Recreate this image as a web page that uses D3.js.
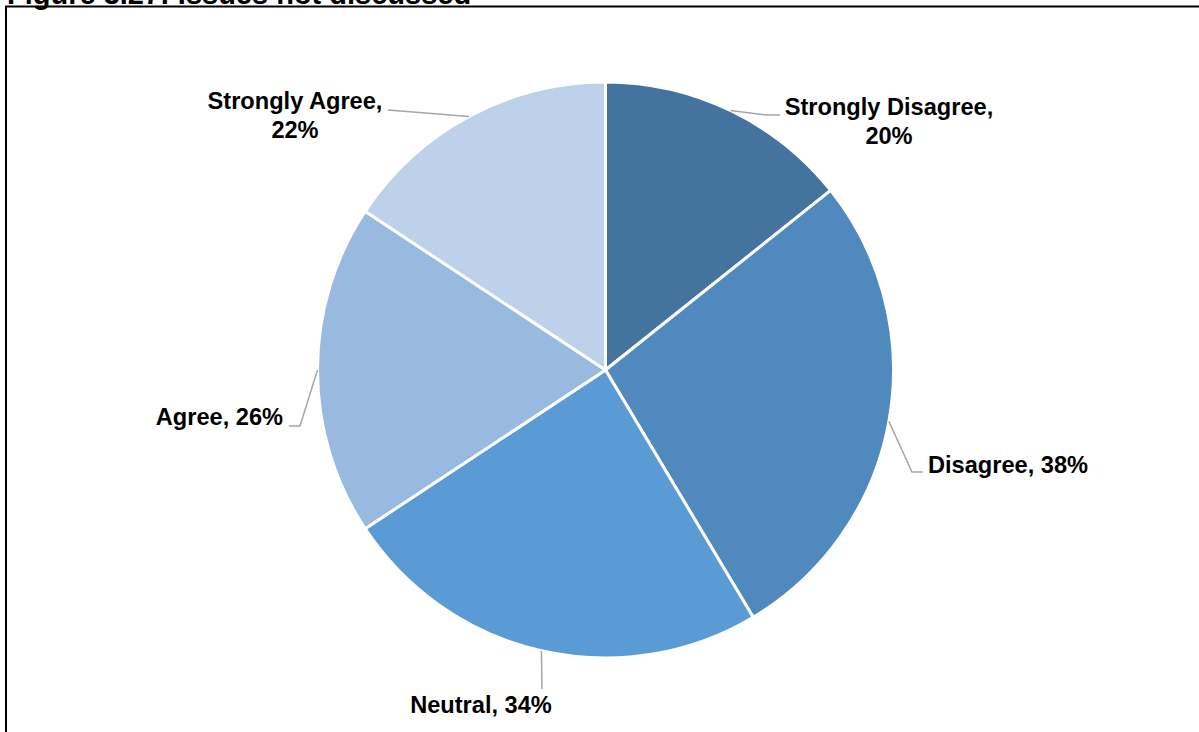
<!DOCTYPE html>
<html>
<head>
<meta charset="utf-8">
<script src="https://cdn.jsdelivr.net/npm/d3@7"></script>
<style>
  html, body { margin: 0; padding: 0; background: #fff; }
  svg { display: block; }
  text { font-family: "Liberation Sans", Arial, sans-serif; font-weight: bold; fill: #000; }
</style>
</head>
<body>
<svg id="chart" width="1199" height="732"></svg>
<script>
const categories = ["Strongly Disagree", "Disagree", "Neutral", "Agree", "Strongly Agree"];
const values = [20, 38, 34, 26, 22];
const colors = ["#44739F", "#4F89BD", "#5B9BD5", "#98B9E0", "#BDD1EA"];
const titleText = "Figure 3.27: Issues not discussed";

// layout (label anchors & leader-line bends), not data
const labelLayout = [
  { lines: 2, anchor: "middle", x: 889, y: 115, pts: [[767, 115], [780, 115]] },
  { lines: 1, anchor: "start",  x: 928, y: 473, pts: [[912, 472], [923, 472]] },
  { lines: 1, anchor: "middle", x: 481, y: 713, pts: [[542, 689]] },
  { lines: 1, anchor: "end",    x: 283, y: 425, pts: [[300, 426], [289, 426]] },
  { lines: 2, anchor: "middle", x: 295, y: 109, pts: [[388, 110]] }
];

const svg = d3.select("#chart");
const cx = 605.5, cy = 370, r = 288;

// title (cut off at top)
svg.append("text").attr("x", 7).attr("y", 4)
  .style("font-size", "29px").text(titleText);

// frame
svg.append("rect").attr("x", 6).attr("y", 6.5).attr("width", 1220).attr("height", 760)
  .attr("fill", "none").attr("stroke", "#000").attr("stroke-width", 2);

const pie = d3.pie().sort(null).value(d => d.v)(categories.map((c, i) => ({ c, v: values[i] })));
const arc = d3.arc().innerRadius(0).outerRadius(r);
const g = svg.append("g").attr("transform", `translate(${cx},${cy})`);

g.selectAll("path.slice").data(pie).join("path")
  .attr("class", "slice")
  .attr("d", arc)
  .attr("fill", (d, i) => colors[i])
  .attr("stroke", "#fff").attr("stroke-width", 3).attr("stroke-linejoin", "round");

// leader lines
pie.forEach((d, i) => {
  const mid = (d.startAngle + d.endAngle) / 2;
  const p0 = [cx + r * Math.sin(mid), cy - r * Math.cos(mid)];
  const pts = [p0].concat(labelLayout[i].pts);
  svg.append("path")
    .attr("d", d3.line()(pts))
    .attr("fill", "none").attr("stroke", "#A6A6A6").attr("stroke-width", 1.5);
});

// labels
pie.forEach((d, i) => {
  const L = labelLayout[i];
  const t = svg.append("text").attr("x", L.x).attr("y", L.y)
    .attr("text-anchor", L.anchor).style("font-size", "23.6px");
  if (L.lines === 2) {
    t.append("tspan").attr("x", L.x).attr("y", L.y).text(categories[i] + ",");
    t.append("tspan").attr("x", L.x).attr("y", L.y + 28.5).text(values[i] + "%");
  } else {
    t.text(categories[i] + ", " + values[i] + "%");
  }
});
</script>
</body>
</html>
